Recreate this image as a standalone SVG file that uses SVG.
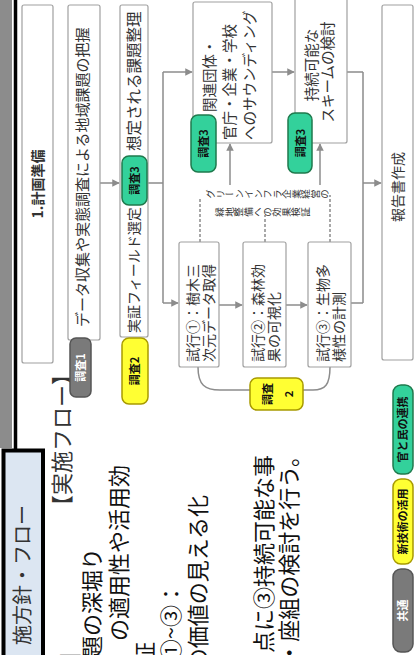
<svg xmlns="http://www.w3.org/2000/svg" width="419" height="655" viewBox="0 0 419 655">
<style>
.bx{fill:#fff;stroke:#a0a0a0;stroke-width:1.2}
text{font-family:"Noto Sans CJK JP","Noto Sans",sans-serif;fill:#333}
.tb{font-size:14.5px}
.body{font-size:22px;fill:#111;text-anchor:end}
.c{fill:none;stroke:#8c8c8c;stroke-width:1.5}
.d{fill:none;stroke:#8c8c8c;stroke-width:1.5;stroke-dasharray:3 2}
.bg{fill:#33d19b;stroke:#1f7a4d;stroke-width:1.5}
.by{fill:#ffff33;stroke:#a89a00;stroke-width:1.5}
.bgr{fill:#7a7a7a;stroke:#555;stroke-width:1.5}
.bt{font-size:11px;font-weight:bold;text-anchor:middle;fill:#111}
.vt{font-size:9.5px;writing-mode:vertical-rl;fill:#333}
</style>
<defs>
<marker id="ah" viewBox="0 0 10 10" refX="9" refY="5" markerWidth="5" markerHeight="5" orient="auto" markerUnits="strokeWidth"><path d="M0,0 L10,5 L0,10 z" fill="#8c8c8c"/></marker>
</defs>
<g id="header">
<rect x="0" y="0" width="12" height="448" fill="#8c8c8c"/>
<line x1="15.5" y1="0" x2="15.5" y2="451" stroke="#000" stroke-width="3.5"/>
<rect x="3.5" y="450.5" width="39.5" height="215" fill="#dce6f2" stroke="#000" stroke-width="4"/>
</g>
<g transform="translate(0,655) rotate(-90)">
<g id="title"><text x="150" y="29.5" font-size="20" text-anchor="end" fill="#111">施方針・フロー</text></g>
<g id="body">
<text x="138" y="70" font-size="22" fill="#111">【実施フロー】</text>
<text class="body" x="15" y="78">】</text>
<text class="body" x="107" y="100">題の深堀り</text>
<text class="body" x="190" y="127">の適用性や活用効</text>
<text class="body" x="13" y="153">証</text>
<text class="body" x="72" y="179">①~③：</text>
<text class="body" x="160" y="206">の価値の見える化</text>
<text class="body" x="200" y="272">点に③持続可能な事</text>
<text class="body" x="210" y="297">ム・座組の検討を行う。</text>
</g>
<g id="connectors">
<path class="c" d="M472,100 L472,119" marker-end="url(#ah)"/>
<path class="c" d="M472,148 L472,163 M352,163 L583,163"/>
<path class="c" d="M583,163 L583,192" marker-end="url(#ah)"/>
<path class="c" d="M352,163 L352,178" marker-end="url(#ah)"/>
<path class="c" d="M583,272 L583,294" marker-end="url(#ah)"/>
<path class="c" d="M350,219 L350,242" marker-end="url(#ah)"/>
<path class="c" d="M350,286 L350,307" marker-end="url(#ah)"/>
<path class="d" d="M413,200 L458,200 M413,265 L440,265 M413,330 L460,330"/>
<path class="c" d="M470,230 L511,230" marker-end="url(#ah)"/>
<path class="c" d="M470,320 L511,320" marker-end="url(#ah)"/>
<path class="c" d="M583,347 L583,363 M352,351 L352,363 M352,363 L583,363"/>
<path class="c" d="M472,363 L472,381" marker-end="url(#ah)"/>
<path class="c" d="M288,198 C270,198 265,205 265,220 L265,250 M265,303 L265,313 C265,325 270,330 288,330"/>
</g>
<g id="nodeA"><rect class="bx" x="292" y="22" width="358" height="31" rx="2"/><text x="471" y="43" font-size="14" font-weight="bold" text-anchor="middle">1.計画準備</text></g>
<g id="nodeB"><rect class="bx" x="315" y="68" width="335" height="32" rx="2"/><text x="328" y="88" font-size="15">データ収集や実態調査による地域課題の把握</text></g>
<g id="badge1"><rect class="bgr" x="258" y="70" width="59" height="21" rx="6"/><text class="bt" x="287.5" y="85" style="fill:#fff">調査1</text></g>
<g id="nodeC"><rect class="bx" x="318" y="120" width="332" height="28" rx="2"/><text x="322" y="139" font-size="14">実証フィールド選定</text><text x="504" y="139.5" font-size="15.5">想定される課題整理</text></g>
<g id="badgeC2"><rect class="by" x="251" y="122" width="66" height="26" rx="7"/><text class="bt" x="284" y="139">調査2</text></g>
<g id="badgeC3"><rect class="bg" x="450" y="122" width="49" height="25" rx="7"/><text class="bt" x="474.5" y="139">調査3</text></g>
<g id="nodeD"><rect class="bx" x="512" y="193" width="141" height="79" rx="2"/><text class="tb" x="543" y="215">関連団体・</text><text class="tb" x="515" y="235">官庁・企業・学校</text><text class="tb" x="515" y="255">へのサウンディング</text></g>
<g id="badgeD"><rect class="bg" x="483" y="191" width="57" height="25" rx="7"/><text class="bt" x="511.5" y="208">調査3</text></g>
<g id="nodeF"><rect class="bx" x="512" y="295" width="146" height="52" rx="2"/><text class="tb" x="590" y="317" text-anchor="middle">持続可能な</text><text class="tb" x="583" y="333" text-anchor="middle">スキームの検討</text></g>
<g id="badgeF"><rect class="bg" x="482" y="288" width="60" height="24" rx="7"/><text class="bt" x="512" y="304.5">調査3</text></g>
<g id="nodeE1"><rect class="bx" x="288" y="179" width="125" height="40" rx="2"/><text x="293" y="198" font-size="14">試行①：樹木三</text><text x="293" y="214" font-size="14">次元データ取得</text></g>
<g id="nodeE2"><rect class="bx" x="288" y="243" width="125" height="43" rx="2"/><text x="293" y="263" font-size="14">試行②：森林効</text><text x="293" y="279" font-size="14">果の可視化</text></g>
<g id="nodeE3"><rect class="bx" x="288" y="308" width="125" height="43" rx="2"/><text x="293" y="328" font-size="14">試行③：生物多</text><text x="293" y="344" font-size="14">様性の計測</text></g>
<g id="label"><text class="vt" x="461" y="206">グリーンインフラ企業経営の</text><text class="vt" x="443" y="215">緑地整備への効果検証</text></g>
<g id="badgeE"><rect class="by" x="245" y="250" width="32" height="53" rx="7"/><text class="bt" x="261" y="272">調査</text><text class="bt" x="261" y="293">2</text></g>
<g id="nodeG"><rect class="bx" x="295" y="382" width="355" height="31" rx="2"/><text x="468" y="402.5" font-size="14" text-anchor="middle">報告書作成</text></g>
<g id="legend">
<rect class="bgr" x="3" y="393" width="83" height="20" rx="8"/><text class="bt" x="44.5" y="407" style="fill:#fff">共通</text>
<rect class="by" x="91" y="393" width="85" height="20" rx="8"/><text class="bt" x="133.5" y="407" font-size="10.5">新技術の活用</text>
<rect class="bg" x="181" y="393" width="89" height="20" rx="8"/><text class="bt" x="225.5" y="407" font-size="10.5">官と民の連携</text>
</g>
</g>
</svg>
